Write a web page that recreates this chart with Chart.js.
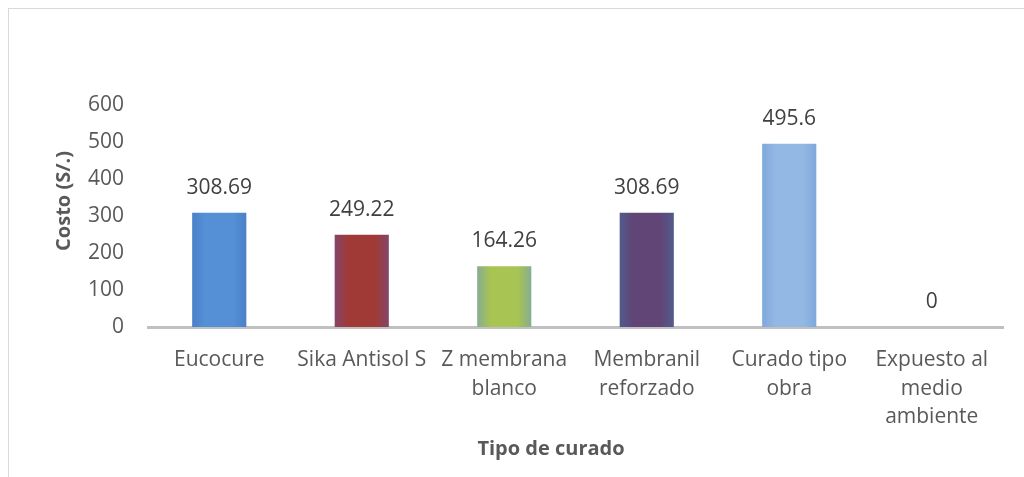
<!DOCTYPE html>
<html>
<head>
<meta charset="utf-8">
<script src="https://cdn.jsdelivr.net/npm/chart.js@4"></script>
<style>
  html, body { margin: 0; padding: 0; background: #fff; }
  #wrap { position: relative; width: 1024px; height: 477px; overflow: hidden; }
  #frame { position: absolute; left: 8px; top: 8px; right: -2px; bottom: -2px;
           border-top: 1px solid #d9d9d9; border-left: 1px solid #d9d9d9; }
  canvas { position: absolute; left: 0; top: 0; }
</style>
</head>
<body>
<div id="wrap">
  <div id="frame"></div>
  <canvas id="myChart" width="1024" height="477"></canvas>
</div>
<script>
var categorias = [
  ["Eucocure"],
  ["Sika Antisol S"],
  ["Z membrana", "blanco"],
  ["Membranil", "reforzado"],
  ["Curado tipo", "obra"],
  ["Expuesto al", "medio", "ambiente"]
];
var costos = [308.69, 249.22, 164.26, 308.69, 495.6, 0];
var etiquetas = ["308.69", "249.22", "164.26", "308.69", "495.6", "0"];

// colores: borde, centro (degradado tipo Excel)
var colores = [
  ["#4a80c8", "#5590d6"],
  ["#84456a", "#a03a36"],
  ["#86ad92", "#a8c452"],
  ["#525a8c", "#614576"],
  ["#7ea8dc", "#94b8e4"],
  ["#7ea8dc", "#94b8e4"]
];

var fuente = "'Open Sans', 'Noto Sans', sans-serif";

function relleno(context) {
  var chart = context.chart;
  var i = context.dataIndex;
  var c = colores[i];
  if (!chart.chartArea || !chart.scales.x) return c[1];
  var sx = chart.scales.x;
  var x = sx.getPixelForValue(i);
  var w = (sx.width / categorias.length) * 0.38;
  var g = chart.ctx.createLinearGradient(x - w / 2, 0, x + w / 2, 0);
  g.addColorStop(0, c[0]);
  g.addColorStop(0.25, c[1]);
  g.addColorStop(0.75, c[1]);
  g.addColorStop(1, c[0]);
  return g;
}

// etiquetas de datos y titulos de ejes
var extras = {
  id: 'extras',
  afterDatasetsDraw: function (chart) {
    var ctx = chart.ctx;
    var meta = chart.getDatasetMeta(0);
    ctx.save();
    ctx.font = "21px " + fuente;
    ctx.fillStyle = "#404040";
    ctx.textAlign = "center";
    ctx.textBaseline = "middle";
    meta.data.forEach(function (bar, i) {
      ctx.fillText(etiquetas[i], bar.x, bar.y - 25);
    });
    ctx.font = "bold 20px " + fuente;
    ctx.fillStyle = "#595959";
    ctx.fillText("Tipo de curado", 551, 449);
    ctx.translate(64, 201);
    ctx.rotate(-Math.PI / 2);
    ctx.fillText("Costo (S/.)", 0, 0);
    ctx.restore();
  }
};

var ctx = document.getElementById('myChart').getContext('2d');
var myChart = new Chart(ctx, {
  type: "bar",
  data: {
    labels: categorias,
    datasets: [{
      data: costos,
      backgroundColor: relleno,
      borderWidth: 0,
      barPercentage: 0.38,
      categoryPercentage: 1
    }]
  },
  options: {
    responsive: false,
    animation: false,
    devicePixelRatio: 1,
    layout: { padding: { top: 105, right: 21, left: 0, bottom: 0 } },
    plugins: {
      legend: { display: false },
      tooltip: { enabled: false }
    },
    scales: {
      x: {
        grid: { display: false },
        border: { display: true, color: "#c0c0c0", width: 3 },
        ticks: {
          color: "#595959",
          padding: 11,
          maxRotation: 0,
          autoSkip: false,
          font: { family: fuente, size: 21, lineHeight: 1.36 }
        },
        afterFit: function (scale) { scale.height = 150; }
      },
      y: {
        min: 0,
        max: 600,
        grid: { display: false },
        border: { display: false },
        ticks: {
          stepSize: 100,
          color: "#595959",
          padding: 16,
          font: { family: fuente, size: 21 }
        },
        afterFit: function (scale) { scale.width = 148; }
      }
    }
  },
  plugins: [extras]
});
</script>
</body>
</html>
